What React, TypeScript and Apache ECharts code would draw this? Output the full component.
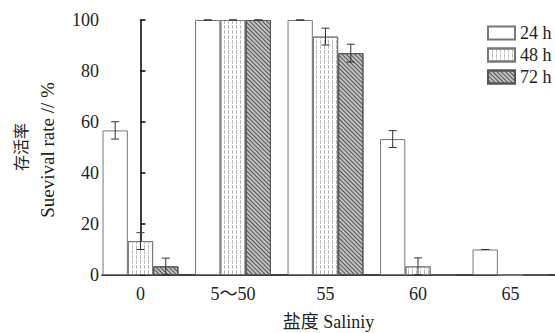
import React, { useEffect, useRef } from 'react';
import * as echarts from 'echarts';

const categories = ['0', '5～50', '55', '60', '65'];
const seriesNames = ['24 h', '48 h', '72 h'];
const survival24 = [56.7, 100, 100, 53.3, 10];
const survival48 = [13.3, 100, 93.5, 3.4, 0];
const survival72 = [3.4, 100, 87, 0, 0];
const error24: (number | null)[] = [3.4, 0, 0, 3.3, 0];
const error48: (number | null)[] = [3.3, 0, 3.3, 3.3, null];
const error72: (number | null)[] = [3.2, 0, 3.5, null, null];
const yTicks = [0, 20, 40, 60, 80, 100];

const BAR_W = 25.3;
const SERIF = 'Liberation Serif, Noto Sans CJK SC, serif';

export default function App() {
  const ref = useRef<HTMLDivElement>(null);
  useEffect(() => {
    if (!ref.current) return;
    const chart = echarts.init(ref.current, null, { renderer: 'svg' });
    const values = [survival24, survival48, survival72];
    const errors = [error24, error48, error72];
    const styles = [
      { color: '#ffffff', borderColor: '#777', borderWidth: 1 },
      {
        color: '#ffffff',
        borderColor: '#777',
        borderWidth: 1,
        decal: {
          symbol: 'rect',
          symbolSize: 1,
          dashArrayX: [1, 2.3],
          dashArrayY: [4, 1],
          color: '#bdbdbd',
          backgroundColor: '#ffffff',
          rotation: 0,
        },
      },
      {
        color: '#c0c0c0',
        borderColor: '#555',
        borderWidth: 1,
        decal: {
          symbol: 'rect',
          symbolSize: 1,
          dashArrayX: [10, 0],
          dashArrayY: [1, 1.2],
          color: '#555',
          backgroundColor: '#c0c0c0',
          rotation: Math.PI / 4,
        },
      },
    ];
    const barSeries = seriesNames.map((name, s) => ({
      type: 'bar',
      name,
      data: values[s].map((v, i) => [i, v]),
      barWidth: BAR_W,
      barGap: '0%',
      itemStyle: styles[s],
      emphasis: { disabled: true },
      z: 2,
    }));
    const errSeries = seriesNames.map((name, s) => ({
      type: 'custom',
      name: name + ' err',
      data: values[s]
        .map((v, i) => (errors[s][i] == null ? null : [i, v, errors[s][i]]))
        .filter((d) => d !== null),
      z: 5,
      silent: true,
      renderItem: (params: any, api: any) => {
        const x = api.value(0);
        const y = api.value(1);
        const e = api.value(2);
        const cx = api.coord([x, y])[0] + (s - 1) * BAR_W;
        const yt = api.coord([x, y + e])[1];
        const yb = api.coord([x, y - e])[1];
        const style = { stroke: '#333', lineWidth: 1 };
        return {
          type: 'group',
          children: [
            { type: 'line', shape: { x1: cx, y1: yt, x2: cx, y2: yb }, style },
            { type: 'line', shape: { x1: cx - 4, y1: yt, x2: cx + 4, y2: yt }, style },
            { type: 'line', shape: { x1: cx - 4, y1: yb, x2: cx + 4, y2: yb }, style },
          ],
        };
      },
    }));

    chart.setOption({
      animation: false,
      backgroundColor: '#ffffff',
      grid: { left: 102, right: 0, top: 20, bottom: 58, containLabel: false, outerBoundsMode: 'none' },
      legend: {
        data: seriesNames,
        orient: 'vertical',
        left: 482,
        top: 19,
        itemWidth: 27,
        itemHeight: 13,
        itemGap: 4,
        icon: 'rect',
        selectedMode: false,
        textStyle: { fontFamily: SERIF, fontSize: 18, color: '#222', lineHeight: 14 },
      },
      xAxis: {
        type: 'value',
        min: -0.416,
        max: 4.481,
        splitLine: { show: false },
        axisTick: { show: false },
        axisLine: { show: true, lineStyle: { color: '#000', width: 1.5 } },
        axisLabel: {
          customValues: [0, 1, 2, 3, 4],
          formatter: (v: number) => categories[Math.round(v)],
          fontFamily: SERIF,
          fontSize: 18,
          color: '#222',
          margin: 10,
        },
        name: '盐度 Saliniy',
        nameLocation: 'middle',
        nameGap: 38,
        nameTextStyle: { fontFamily: SERIF, fontSize: 18, color: '#222' },
      },
      yAxis: {
        type: 'value',
        min: yTicks[0],
        max: yTicks[yTicks.length - 1],
        interval: 20,
        splitLine: { show: false },
        axisLine: { show: true, lineStyle: { color: '#000', width: 1.5 } },
        axisTick: { show: true, inside: true, length: 5, lineStyle: { color: '#000', width: 1.5 } },
        axisLabel: { fontFamily: SERIF, fontSize: 18, color: '#222', margin: 3 },
      },
      graphic: [
        {
          type: 'text',
          x: 20,
          y: 147,
          rotation: Math.PI / 2,
          style: { text: '存活率', font: '16px "Noto Sans CJK SC"', fill: '#222', align: 'center', verticalAlign: 'middle' },
        },
        {
          type: 'text',
          x: 47,
          y: 150,
          rotation: Math.PI / 2,
          style: { text: 'Suevival rate // %', font: '19px "Liberation Serif"', fill: '#222', align: 'center', verticalAlign: 'middle' },
        },
      ],
      series: [...barSeries, ...errSeries],
    } as any);
    return () => chart.dispose();
  }, []);
  return <div ref={ref} style={{ position: 'absolute', left: 0, top: 0, width: 555, height: 333 }} />;
}
